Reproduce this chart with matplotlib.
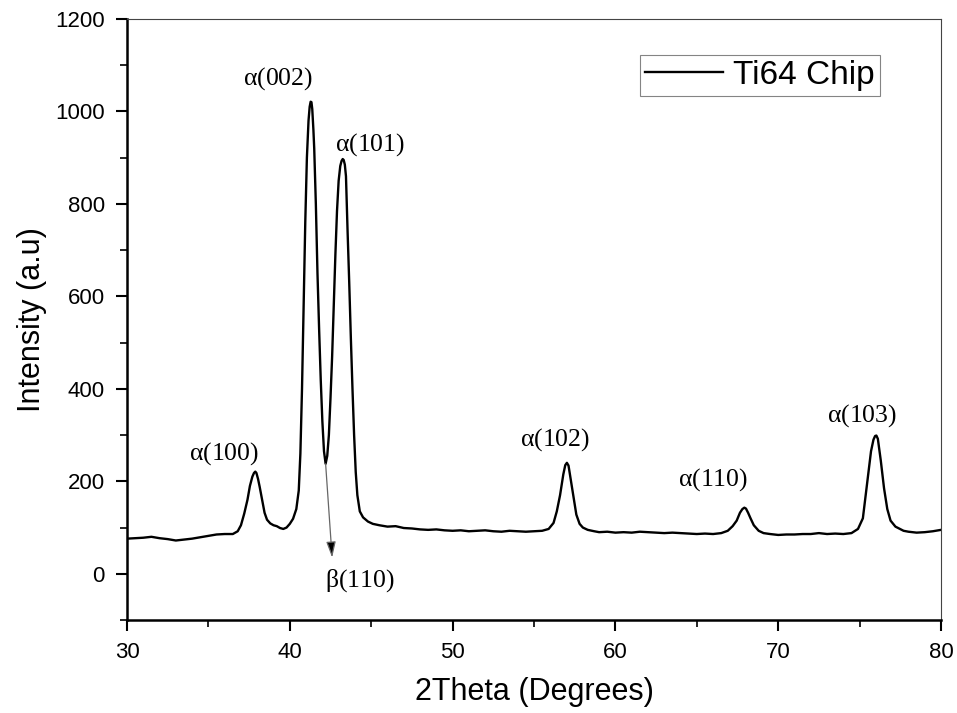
import matplotlib
matplotlib.use("Agg")
import matplotlib.pyplot as plt
from matplotlib.ticker import MultipleLocator

# ======================================================
# DATA
# ======================================================

two_theta = [
    30.0, 30.5, 31.0, 31.5, 32.0, 32.5, 33.0, 33.5, 34.0, 34.5, 35.0, 35.5, 36.0, 36.5,
    36.8, 37.0, 37.2, 37.4, 37.55, 37.7, 37.8, 37.88, 37.95, 38.05, 38.15, 38.3, 38.45,
    38.6, 38.8, 39.0, 39.2, 39.4, 39.6, 39.8, 40.0, 40.2, 40.4, 40.55, 40.65, 40.75,
    40.85, 40.95, 41.05, 41.15, 41.22, 41.28, 41.33, 41.38, 41.45, 41.5, 41.6, 41.7,
    41.8, 41.9, 42.0, 42.1, 42.2, 42.3, 42.4, 42.5, 42.6, 42.7, 42.8, 42.9, 43.0, 43.1,
    43.18, 43.25, 43.31, 43.38, 43.45, 43.55, 43.65, 43.75, 43.85, 43.95, 44.05, 44.15,
    44.3, 44.5, 44.8, 45.1, 45.5, 46.0, 46.5, 47.0, 47.5, 48.0, 48.5, 49.0, 49.5, 50.0,
    50.5, 51.0, 51.5, 52.0, 52.5, 53.0, 53.5, 54.0, 54.5, 55.0, 55.5, 55.9, 56.2, 56.4,
    56.6, 56.8, 56.92, 57.02, 57.12, 57.25, 57.45, 57.6, 57.8, 58.0, 58.3, 58.7, 59.0,
    59.5, 60.0, 60.5, 61.0, 61.5, 62.0, 62.5, 63.0, 63.5, 64.0, 64.5, 65.0, 65.5, 66.0,
    66.5, 66.9, 67.2, 67.45, 67.65, 67.8, 67.92, 68.02, 68.15, 68.3, 68.5, 68.8, 69.1,
    69.5, 70.0, 70.5, 71.0, 71.5, 72.0, 72.5, 73.0, 73.5, 74.0, 74.5, 74.9, 75.2, 75.45,
    75.7, 75.85, 75.95, 76.03, 76.12, 76.3, 76.5, 76.7, 76.9, 77.2, 77.7, 78.0, 78.5,
    79.0, 79.5, 80.0,
]

intensity = [
    76, 77, 78, 80, 77, 75, 72, 74, 76, 79, 82, 85, 86, 86,
    92, 105, 130, 160, 190, 210, 218, 221, 218, 205, 188, 160, 132,
    117, 109, 105, 103, 99, 97, 100, 108, 119, 140, 180, 260, 400,
    580, 760, 900, 980, 1010, 1021, 1020, 1005, 960, 920, 800, 650,
    530, 420, 330, 265, 238, 255, 300, 380, 470, 580, 690, 785, 850, 882,
    893, 897, 895, 885, 860, 740, 630, 510, 400, 300, 220, 170,
    135, 122, 113, 108, 105, 102, 103, 99, 98, 96, 95, 96, 94, 93,
    94, 92, 93, 94, 92, 91, 93, 92, 91, 92, 93, 97, 110, 135,
    170, 215, 235, 240, 234, 205, 160, 128, 108, 100, 95, 92, 90,
    91, 89, 90, 89, 91, 90, 89, 88, 89, 88, 87, 86, 87, 86,
    88, 93, 103, 115, 132, 140, 143, 141, 132, 120, 105, 93, 88,
    86, 84, 85, 85, 86, 86, 88, 86, 87, 86, 88, 97, 120, 192,
    265, 290, 298, 299, 292, 245, 185, 140, 115, 102, 93, 91, 89,
    90, 92, 95,
]

peak_labels = [r"$\mathregular{\alpha}$(100)", r"$\mathregular{\alpha}$(002)",
               r"$\mathregular{\alpha}$(101)", r"$\mathregular{\alpha}$(102)",
               r"$\mathregular{\alpha}$(110)", r"$\mathregular{\alpha}$(103)"]
label_x = [35.96, 39.3, 44.9, 56.3, 66.0, 75.15]
label_y = [260, 1072, 929, 290, 204, 342]

beta_label = r"$\mathregular{\beta}$(110)"
beta_from = (42.2, 238)
beta_to = (42.6, 35)
beta_text_xy = (44.3, -15)

# ======================================================
# PLOT
# ======================================================

plt.rcParams["font.family"] = ["Liberation Sans", "DejaVu Sans"]
plt.rcParams["mathtext.fontset"] = "custom"
plt.rcParams["mathtext.rm"] = "Liberation Serif"

fig = plt.figure(figsize=(9.57, 7.13), dpi=100)
ax = fig.add_axes([0.1327, 0.1304, 0.8506, 0.843])

ax.plot(two_theta, intensity, color="black", lw=1.7, label="Ti64 Chip")

for txt, lx, ly in zip(peak_labels, label_x, label_y):
    ax.text(lx, ly, txt, ha="center", va="center", fontsize=18.5,
            family="Liberation Serif")

ax.annotate("", xy=beta_to, xytext=beta_from,
            arrowprops=dict(arrowstyle="-|>,head_length=0.6,head_width=0.18",
                            edgecolor="#666666", facecolor="black", lw=0.9,
                            mutation_scale=16, shrinkA=0, shrinkB=0))
ax.text(beta_text_xy[0], beta_text_xy[1], beta_label, ha="center", va="center",
        fontsize=18.5, family="Liberation Serif")

ax.set_xlim(30, 80)
ax.set_ylim(-100, 1200)
ax.xaxis.set_major_locator(MultipleLocator(10))
ax.xaxis.set_minor_locator(MultipleLocator(5))
ax.yaxis.set_major_locator(MultipleLocator(200))
ax.yaxis.set_minor_locator(MultipleLocator(100))

ax.tick_params(which="major", direction="out", length=8, width=1.5,
               labelsize=16, top=False, right=False, pad=8)
ax.tick_params(which="minor", direction="out", length=5, width=1.2,
               top=False, right=False)

for side in ["left", "bottom"]:
    ax.spines[side].set_linewidth(1.8)
    ax.spines[side].set_color("black")
for side in ["top", "right"]:
    ax.spines[side].set_linewidth(0.8)
    ax.spines[side].set_color("#444444")

ax.set_xlabel("2Theta (Degrees)", fontsize=22, labelpad=10)
ax.set_ylabel("Intensity (a.u)", fontsize=22, labelpad=6)

leg = ax.legend(loc="upper left", bbox_to_anchor=(0.63, 0.94), fontsize=24,
                fancybox=False, handlelength=2.35, handletextpad=0.3,
                borderpad=0.15, borderaxespad=0)
leg.get_frame().set_edgecolor("#666666")
leg.get_frame().set_linewidth(0.8)

fig.savefig("out.png", dpi=100)
